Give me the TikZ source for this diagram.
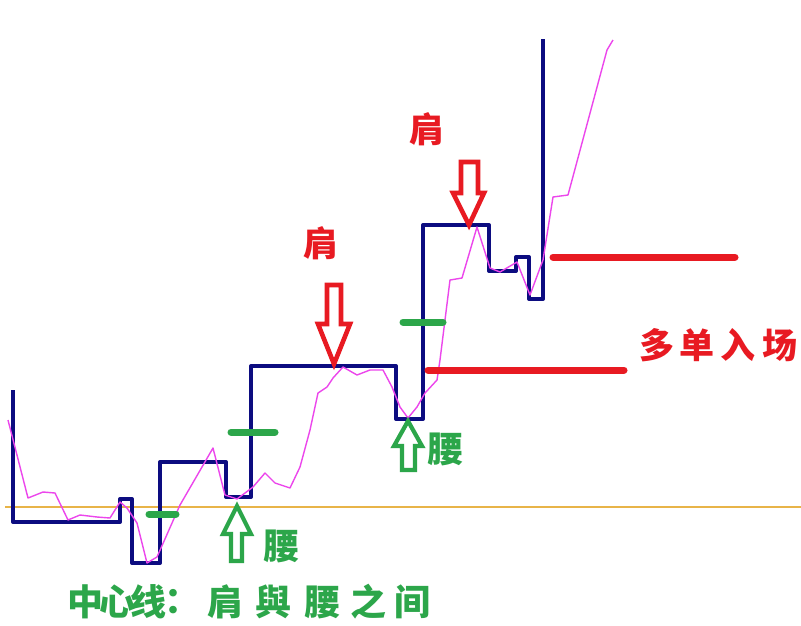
\documentclass[tikz,border=0pt]{standalone}
\usepackage{fontspec}
\newfontfamily\cjk{Noto Sans CJK SC}
\definecolor{navyc}{RGB}{12,12,128}
\definecolor{magc}{RGB}{236,70,236}
\definecolor{orac}{RGB}{232,180,72}
\definecolor{grnc}{RGB}{44,166,74}
\definecolor{redc}{RGB}{232,26,34}
\tikzset{
  stepline/.style={navyc, line width=4pt, line join=round},
  avgline/.style={magc, line width=1.4pt, line join=round},
  midbar/.style={grnc, line width=7pt, line cap=round},
  entrybar/.style={redc, line width=7pt, line cap=round},
  downarrow/.style={redc, line width=4.6pt, fill=white, line join=miter},
  uparrow/.style={grnc, line width=4.2pt, fill=white, line join=miter},
  redlbl/.style={text=redc, font=\cjk\bfseries\fontsize{35}{35}\selectfont, inner sep=0pt},
  grnlbl/.style={text=grnc, font=\cjk\bfseries\fontsize{36}{36}\selectfont, inner sep=0pt},
}
\begin{document}
\begin{tikzpicture}[x=1pt,y=-1pt]
\useasboundingbox (0,0) rectangle (801,625);
\fill[white] (0,0) rectangle (801,625);
% baseline
\draw[orac, line width=2pt] (5,507) -- (801,507);
% step line
\draw[stepline] (13,390) -- (13,522) -- (120,522) -- (120,499) -- (132,499) -- (132,563) -- (160,563) -- (160,462) -- (226,462) -- (226,497) -- (251,497) -- (251,366) -- (396,366) -- (396,419) -- (423,419) -- (423,225) -- (489,225) -- (489,271) -- (516,271) -- (516,257) -- (529,257) -- (529,299) -- (543,299) -- (543,39);
% moving average
\draw[avgline] (8,420) -- (28,498) -- (43,492) -- (55,493) -- (68,520) -- (80,515) -- (97,517) -- (110,518) -- (120,502) -- (127,508) -- (137,523) -- (147,563) -- (157,557) -- (180,505) -- (213,448) -- (225,495) -- (237,499) -- (253,487) -- (265,473) -- (275,483) -- (290,488) -- (300,467) -- (310,430) -- (318,393) -- (327,387) -- (333,378) -- (343,367) -- (357,375) -- (370,370) -- (383,370) -- (392,387) -- (400,407) -- (408,418) -- (417,407) -- (425,393) -- (437,380) -- (440,360) -- (450,280) -- (462,278) -- (477,227) -- (490,268) -- (500,272) -- (517,262) -- (530,295) -- (543,260) -- (553,197) -- (568,195) -- (607,50) -- (613,40);
% green centre bars
\draw[midbar] (149,514) -- (176,514);
\draw[midbar] (231,432) -- (275,432);
\draw[midbar] (403,322) -- (443,322);
% red entry bars
\draw[entrybar] (428,370) -- (624,370);
\draw[entrybar] (553,257) -- (735,257);
% shoulder arrows
\draw[downarrow] (327,285) -- (341,285) -- (341,324) -- (350,324) -- (334,364) -- (318,324) -- (327,324) -- cycle;
\draw[downarrow] (461,162) -- (478,162) -- (478,193) -- (484,193) -- (469,225) -- (453,193) -- (461,193) -- cycle;
% waist arrows
\draw[uparrow] (237,506) -- (251,534) -- (242,534) -- (242,561) -- (231,561) -- (231,534) -- (223,534) -- cycle;
\draw[uparrow] (408,421) -- (422,446) -- (415,446) -- (415,470) -- (402,470) -- (402,446) -- (394,446) -- cycle;
% labels
\node[redlbl] (s1) at (321,243) {肩};
\node[redlbl] (s2) at (427,129) {肩};
\node[grnlbl] (w1) at (281,546) {腰};
\node[grnlbl] (w2) at (445,449) {腰};
\node[redlbl] (e1) at (657,345) {多};
\node[redlbl] (e2) at (697,345) {单};
\node[redlbl] (e3) at (738,345) {入};
\node[redlbl] (e4) at (780,345) {场};
\node[grnlbl] (c1) at (85,602) {中};
\node[grnlbl] (c2) at (117,602) {心};
\node[grnlbl] (c3) at (148,602) {线};
\node[grnlbl] (c4) at (182,602) {：};
\node[grnlbl] (c5) at (225,602) {肩};
\node[grnlbl] (c6) at (273,602) {與};
\node[grnlbl] (c7) at (322,602) {腰};
\node[grnlbl] (c8) at (368,602) {之};
\node[grnlbl] (c9) at (412,602) {间};
\end{tikzpicture}
\end{document}
